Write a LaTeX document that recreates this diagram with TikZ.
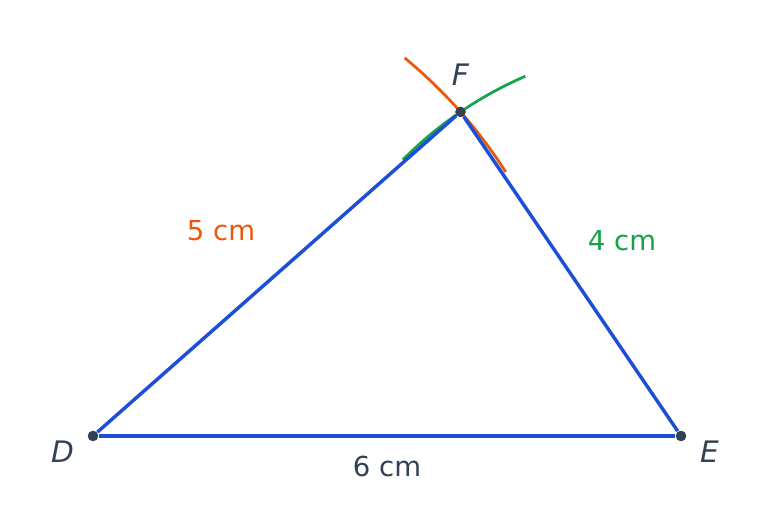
\documentclass[tikz,border=0pt]{standalone}
\usepackage{fontspec}
\setmainfont{DejaVu Sans}
\usetikzlibrary{positioning}
\definecolor{sideblue}{HTML}{1D4ED8}
\definecolor{arcorange}{HTML}{EA580C}
\definecolor{arcgreen}{HTML}{16A34A}
\definecolor{slate}{HTML}{334155}
\begin{document}
\begin{tikzpicture}
    \tikzstyle{vertex}=[circle,fill=slate,minimum size=3pt,inner sep=0pt]
    \tikzstyle{side}=[sideblue,line width=1pt]
    \tikzstyle{ptname}=[text=slate,inner sep=0pt,font=\fontsize{8.6}{10}\selectfont\itshape]
    \tikzstyle{len}=[inner sep=0pt,font=\fontsize{8}{10}\selectfont]
    \useasboundingbox (-0.949,-0.949) rectangle (6.949,4.449);
    \node[vertex] (D) at (0,0) {};
    \node[vertex] (E) at (6,0) {};
    \node[vertex] (F) at (3.75,3.307) {};
    % compass arcs
    \draw[arcorange,line width=0.8pt] (D.center) ++(32.6:5) arc (32.6:50.5:5);
    \draw[arcgreen,line width=0.8pt] (E.center) ++(113.4:4) arc (113.4:135.2:4);
    \draw[side] (D) -- (E);
    \draw[side] (D) -- (F);
    \draw[side] (E) -- (F);
    \node[vertex] at (D) {};
    \node[vertex] at (E) {};
    \node[vertex] at (F) {};
    \node[ptname] (lD) at ([shift={(-0.31,-0.16)}]D) {D};
    \node[ptname] (lE) at ([shift={(0.29,-0.16)}]E) {E};
    \node[ptname] (lF) at ([shift={(0,0.377)}]F) {F};
    \node[len,text=arcorange] (lDF) at (1.306,2.092) {5 cm};
    \node[len,text=arcgreen] (lEF) at (5.398,1.990) {4 cm};
    \node[len,text=slate] (lDE) at (3.0,-0.306) {6 cm};
\end{tikzpicture}
\end{document}
